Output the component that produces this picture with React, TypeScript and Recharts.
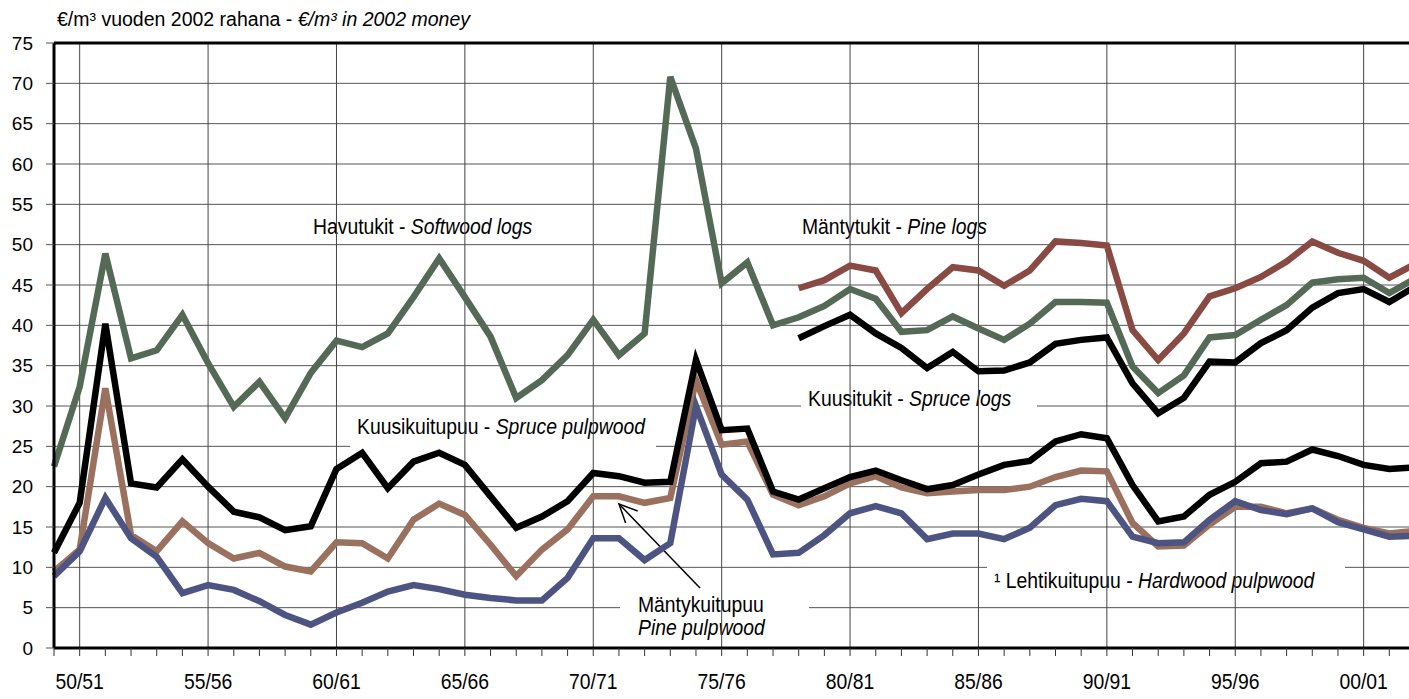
import { LineChart, Line, XAxis, YAxis, CartesianGrid, ReferenceLine, Customized } from "recharts";

const seasons = [
  "49/50", "50/51", "51/52", "52/53", "53/54", "54/55", "55/56", "56/57", "57/58", "58/59",
  "59/60", "60/61", "61/62", "62/63", "63/64", "64/65", "65/66", "66/67", "67/68", "68/69",
  "69/70", "70/71", "71/72", "72/73", "73/74", "74/75", "75/76", "76/77", "77/78", "78/79",
  "79/80", "80/81", "81/82", "82/83", "83/84", "84/85", "85/86", "86/87", "87/88", "88/89",
  "89/90", "90/91", "91/92", "92/93", "93/94", "94/95", "95/96", "96/97", "97/98", "98/99",
  "99/00", "00/01", "01/02", "02/03",
];

const labelledSeasons = ["50/51", "55/56", "60/61", "65/66", "70/71", "75/76", "80/81", "85/86", "90/91", "95/96", "00/01"];

const yTicks = [0, 5, 10, 15, 20, 25, 30, 35, 40, 45, 50, 55, 60, 65, 70, 75];

// Havutukit - softwood logs
const softwoodLogs = [
  22.5, 32.4, 48.9, 35.9, 36.9, 41.3, 35.3, 29.9, 33.0, 28.5,
  34.1, 38.1, 37.3, 39.0, 43.5, 48.3, 43.5, 38.6, 31.0, 33.2,
  36.3, 40.7, 36.3, 39.0, 70.8, 61.9, 45.2, 47.8, 40.0, 41.0,
  42.4, 44.5, 43.3, 39.2, 39.4, 41.1, 39.6, 38.2, 40.2, 42.9,
  42.9, 42.8, 34.9, 31.6, 33.8, 38.5, 38.8, 40.7, 42.5, 45.3,
  45.7, 45.9, 44.0, 45.8,
];

// Mäntytukit - pine logs, from 78/79
const pineLogs = [
  44.6, 45.6, 47.4, 46.8, 41.5, 44.5, 47.2, 46.8, 44.9, 46.8,
  50.4, 50.2, 49.9, 39.4, 35.7, 39.0, 43.6, 44.6, 46.0, 47.9,
  50.4, 49.0, 48.0, 45.9, 47.6,
];

// Kuusitukit - spruce logs, from 78/79
const spruceLogs = [
  38.4, 39.9, 41.3, 39.0, 37.2, 34.7, 36.7, 34.3, 34.4, 35.4,
  37.7, 38.2, 38.5, 32.8, 29.1, 31.0, 35.5, 35.4, 37.8, 39.4,
  42.2, 44.0, 44.5, 42.9, 44.8,
];
const logsFrom = "78/79";

const sprucePulp = [
  11.8, 18.0, 40.2, 20.4, 19.9, 23.4, 20.0, 16.9, 16.2, 14.6,
  15.1, 22.2, 24.2, 19.8, 23.1, 24.2, 22.7, 18.8, 14.9, 16.3,
  18.2, 21.7, 21.3, 20.5, 20.6, 35.7, 27.0, 27.2, 19.4, 18.4,
  19.8, 21.2, 22.0, 20.8, 19.7, 20.2, 21.5, 22.7, 23.2, 25.6,
  26.5, 26.0, 20.2, 15.7, 16.3, 19.0, 20.6, 22.9, 23.1, 24.6,
  23.8, 22.7, 22.2, 22.4,
];

const pinePulp = [
  9.5, 12.2, 32.2, 14.0, 12.0, 15.7, 13.0, 11.1, 11.8, 10.1,
  9.5, 13.1, 13.0, 11.1, 15.9, 17.9, 16.5, 12.8, 8.9, 12.2,
  14.7, 18.8, 18.8, 18.0, 18.6, 33.2, 25.2, 25.6, 19.0, 17.7,
  18.8, 20.4, 21.3, 19.9, 19.2, 19.4, 19.6, 19.6, 20.0, 21.2,
  22.0, 21.9, 15.5, 12.6, 12.7, 15.3, 17.5, 17.5, 16.7, 17.3,
  15.9, 14.9, 14.2, 14.5,
];

const hardwoodPulp = [
  8.9, 12.0, 18.6, 13.6, 11.3, 6.8, 7.8, 7.2, 5.8, 4.1,
  2.9, 4.4, 5.6, 7.0, 7.8, 7.3, 6.6, 6.2, 5.9, 5.9,
  8.7, 13.6, 13.6, 10.9, 13.0, 30.0, 21.5, 18.4, 11.6, 11.8,
  14.0, 16.7, 17.6, 16.7, 13.5, 14.2, 14.2, 13.5, 14.9, 17.7,
  18.5, 18.2, 13.8, 13.0, 13.1, 15.9, 18.2, 17.1, 16.6, 17.3,
  15.6, 14.7, 13.8, 13.9,
];

const start = seasons.indexOf(logsFrom);
const data = seasons.map((season, i) => ({
  season,
  softwood: softwoodLogs[i],
  pine: i >= start ? pineLogs[i - start] : null,
  spruce: i >= start ? spruceLogs[i - start] : null,
  sprucePulp: sprucePulp[i],
  pinePulp: pinePulp[i],
  hardwood: hardwoodPulp[i],
}));

const FONT = "'Liberation Sans', Arial, sans-serif";
const SX = 0.9; // labels in the original are a bit condensed
const LW = 6.5;

function XTick({ x, y, payload }: any) {
  if (!labelledSeasons.includes(payload.value)) return <g />;
  return (
    <text transform={`translate(${x},${y + 31}) scale(${SX},1)`} textAnchor="middle" fontSize={21.5} fontFamily={FONT} fill="#000">
      {payload.value}
    </text>
  );
}

function Label({ x, y, plain, italic, w, h }: any) {
  return (
    <g>
      <rect x={x - 7} y={y - 25} width={w} height={h} fill="#fff" />
      <text transform={`translate(${x},${y}) scale(${SX},1)`} fontSize={21.5} fontFamily={FONT} fill="#000">
        <tspan>{plain}</tspan>
        {italic && <tspan fontStyle="italic">{italic}</tspan>}
      </text>
    </g>
  );
}

function Notes() {
  return (
    <g>
      <Label x={313} y={234} plain="Havutukit - " italic="Softwood logs" w={240} h={34} />
      <Label x={802} y={234} plain="Mäntytukit - " italic="Pine logs" w={205} h={34} />
      <Label x={808} y={406} plain="Kuusitukit - " italic="Spruce logs" w={236} h={41} />
      <Label x={357} y={434} plain="Kuusikuitupuu - " italic="Spruce pulpwood" w={306} h={40} />
      <Label x={994} y={588} plain="¹ Lehtikuitupuu - " italic="Hardwood pulpwood" w={358} h={44} />
      <rect x={620} y={589} width={189} height={51} fill="#fff" />
      <text transform={`translate(638,612) scale(${SX},1)`} fontSize={21.5} fontFamily={FONT}>Mäntykuitupuu</text>
      <text transform={`translate(638,635) scale(${SX},1)`} fontSize={21.5} fontFamily={FONT} fontStyle="italic">Pine pulpwood</text>
      <line x1={700} y1={588} x2={619} y2={504} stroke="#000" strokeWidth={1.5} />
      <polyline points="625.6,523 619,504 637.7,511" fill="none" stroke="#000" strokeWidth={1.5} />
      <text x={57} y={26} fontSize={19.5} fontFamily={FONT} fill="#000">
        <tspan>€/m³ vuoden 2002 rahana - </tspan>
        <tspan fontStyle="italic">€/m³ in 2002 money</tspan>
      </text>
    </g>
  );
}

export default function App() {
  return (
    <div style={{ position: "fixed", left: 0, top: 0, width: 1409, height: 699, overflow: "hidden", background: "#fff" }}>
      <LineChart width={1430} height={699} data={data} margin={{ top: 43, right: 15, left: 0, bottom: 0 }}>
        <CartesianGrid vertical={false} stroke="#555" strokeWidth={1} />
        {labelledSeasons.map((s) => (
          <ReferenceLine key={s} x={s} stroke="#444" strokeWidth={1} />
        ))}
        <Customized component={Notes} />
        <ReferenceLine y={75} stroke="#000" strokeWidth={3} />
        <XAxis
          dataKey="season"
          interval={0}
          tickSize={8}
          height={51}
          tick={<XTick />}
          tickLine={{ stroke: "#333" }}
          axisLine={{ stroke: "#000", strokeWidth: 3 }}
        />
        <YAxis
          domain={[0, 75]}
          ticks={yTicks}
          interval={0}
          width={54}
          tickSize={8}
          tickMargin={13}
          tick={{ fill: "#000", fontSize: 19, fontFamily: FONT }}
          tickLine={{ stroke: "#555" }}
          axisLine={{ stroke: "#000", strokeWidth: 3 }}
        />
        <Line dataKey="pinePulp" stroke="#9a705f" strokeWidth={LW} dot={false} isAnimationActive={false} />
        <Line dataKey="hardwood" stroke="#4e5482" strokeWidth={LW} dot={false} isAnimationActive={false} />
        <Line dataKey="sprucePulp" stroke="#000" strokeWidth={LW} dot={false} isAnimationActive={false} />
        <Line dataKey="softwood" stroke="#546a56" strokeWidth={LW} dot={false} isAnimationActive={false} />
        <Line dataKey="pine" stroke="#8a4a44" strokeWidth={LW} dot={false} isAnimationActive={false} />
        <Line dataKey="spruce" stroke="#000" strokeWidth={LW} dot={false} isAnimationActive={false} />
      </LineChart>
    </div>
  );
}
